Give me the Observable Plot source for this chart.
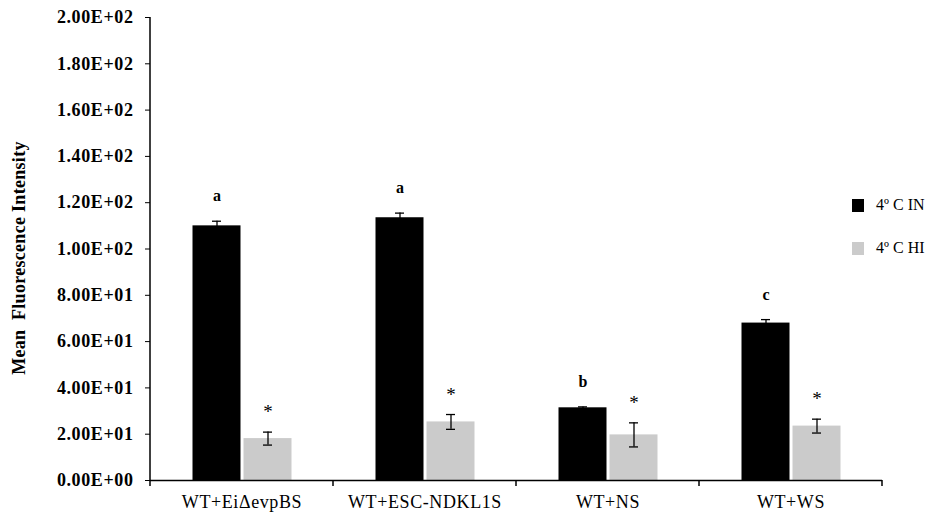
<!DOCTYPE html>
<html>
<head>
<meta charset="utf-8">
<script src="https://cdn.jsdelivr.net/npm/d3@7"></script>
<script src="https://cdn.jsdelivr.net/npm/@observablehq/plot@0.6"></script>
<style>
  html, body { margin: 0; padding: 0; background: white; }
  #wrap { position: relative; width: 948px; height: 526px; }
  #wrap svg, #wrap svg text { font-family: "Liberation Serif", serif !important; }
  #legend { position: absolute; left: 852px; top: 196px; font-family: "Liberation Serif", serif; font-size: 16px; color: #000; }
  #legend .row { display: flex; align-items: center; height: 18px; margin-bottom: 25px; }
  #legend .sw { width: 12px; height: 13px; margin-right: 12px; }
</style>
</head>
<body>
<div id="wrap"></div>
<script>
const categories = ["WT+EiΔevpBS", "WT+ESC-NDKL1S", "WT+NS", "WT+WS"];
const series = ["4º C IN", "4º C HI"];
const seriesColors = ["#000000", "#cbcbcb"];
const inMeans = [110, 113.5, 31.4, 68];
const inErrors = [2, 2, 0.4, 1.5];
const hiMeans = [18.1, 25.3, 19.7, 23.5];
const hiErrors = [2.8, 3.2, 5.2, 3];
const inLetters = ["a", "a", "b", "c"];
const hiLetters = ["*", "*", "*", "*"];
const yTicks = [0, 20, 40, 60, 80, 100, 120, 140, 160, 180, 200];
const yTitle = "Mean  Fluorescence Intensity";

const rows = [];
categories.forEach((c, i) => {
  rows.push({cat: c, series: series[0], value: inMeans[i], err: inErrors[i], label: inLetters[i]});
  rows.push({cat: c, series: series[1], value: hiMeans[i], err: hiErrors[i], label: hiLetters[i]});
});

function sci(d) {
  const [m, e] = d.toExponential(2).split("e");
  const sign = e[0];
  const digits = e.slice(1).padStart(2, "0");
  return m + "E" + sign + digits;
}

const plot = Plot.plot({
  width: 948,
  height: 526,
  marginLeft: 150,
  marginRight: 66,
  marginTop: 17,
  marginBottom: 46,
  style: {fontSize: "15px", color: "#000", background: "white"},
  fx: {domain: categories, padding: 0, label: null, axis: null},
  x: {domain: series, paddingInner: 0, paddingOuter: 0.777, axis: null},
  y: {domain: [0, 200], axis: null},
  color: {domain: series, range: seriesColors},
  marks: [
    Plot.barY(rows, {fx: "cat", x: "series", y: "value", fill: "series", insetLeft: 1.5, insetRight: 1.5}),
    Plot.ruleX(rows, {fx: "cat", x: "series", y1: d => d.value - d.err, y2: d => d.value + d.err, stroke: "#000", strokeWidth: 1.3}),
    Plot.tickY(rows, {fx: "cat", x: "series", y: d => d.value + d.err, insetLeft: 21, insetRight: 21, stroke: "#000", strokeWidth: 1.3}),
    Plot.tickY(rows, {fx: "cat", x: "series", y: d => d.value - d.err, insetLeft: 21, insetRight: 21, stroke: "#000", strokeWidth: 1.3}),
    Plot.text(rows.filter(d => d.label !== "*"), {fx: "cat", x: "series", y: d => d.value + d.err, text: "label", dy: -25, fontWeight: "bold", fontSize: 16, fill: "#000"}),
    Plot.text(rows.filter(d => d.label === "*"), {fx: "cat", x: "series", y: d => d.value + d.err, text: "label", dy: -20, fontSize: 19, fill: "#000"}),
    Plot.axisY({ticks: yTicks, tickFormat: sci, tickSize: 5, tickPadding: 12, fontWeight: "bold", fontSize: 18,
      label: yTitle, labelAnchor: "center", labelOffset: 138, labelArrow: "none"}),
    Plot.axisFx({anchor: "bottom", tickSize: 0, tickPadding: 15, fontSize: 18, label: null}),
    Plot.ruleY([0], {stroke: "#000", strokeWidth: 1.5})
  ]
});

document.getElementById("wrap").appendChild(plot);

// axis line and category boundary ticks, positioned from the plot's scales
const fx = plot.scale("fx");
const ys = plot.scale("y");
const step = fx.apply(categories[1]) - fx.apply(categories[0]);
const edges = categories.map(c => fx.apply(c)).concat([fx.apply(categories[categories.length - 1]) + step]);
const svg = d3.select(plot);
const g = svg.append("g").attr("stroke", "#000").attr("stroke-width", 1.5);
g.append("line")
  .attr("x1", edges[0]).attr("x2", edges[0])
  .attr("y1", ys.apply(200)).attr("y2", ys.apply(0));
edges.forEach(x => {
  g.append("line").attr("x1", x).attr("x2", x).attr("y1", ys.apply(0)).attr("y2", ys.apply(0) + 6);
});

// text styling: letter spacing on tick labels, y-axis title size and weight
svg.selectAll("text").each(function() {
  const t = this.textContent;
  if (t === yTitle) {
    d3.select(this).style("font-size", "18px").style("font-weight", "bold")
      .style("white-space", "pre").style("letter-spacing", "0.3px").attr("dx", -9);
  } else if (t.includes("E+") || categories.includes(t)) {
    d3.select(this).style("letter-spacing", "0.6px");
  }
});

// legend
const legend = d3.select("#wrap").append("div").attr("id", "legend");
series.forEach((s, i) => {
  const row = legend.append("div").attr("class", "row");
  row.append("div").attr("class", "sw").style("background", seriesColors[i]);
  row.append("span").text(s);
});
</script>
</body>
</html>
